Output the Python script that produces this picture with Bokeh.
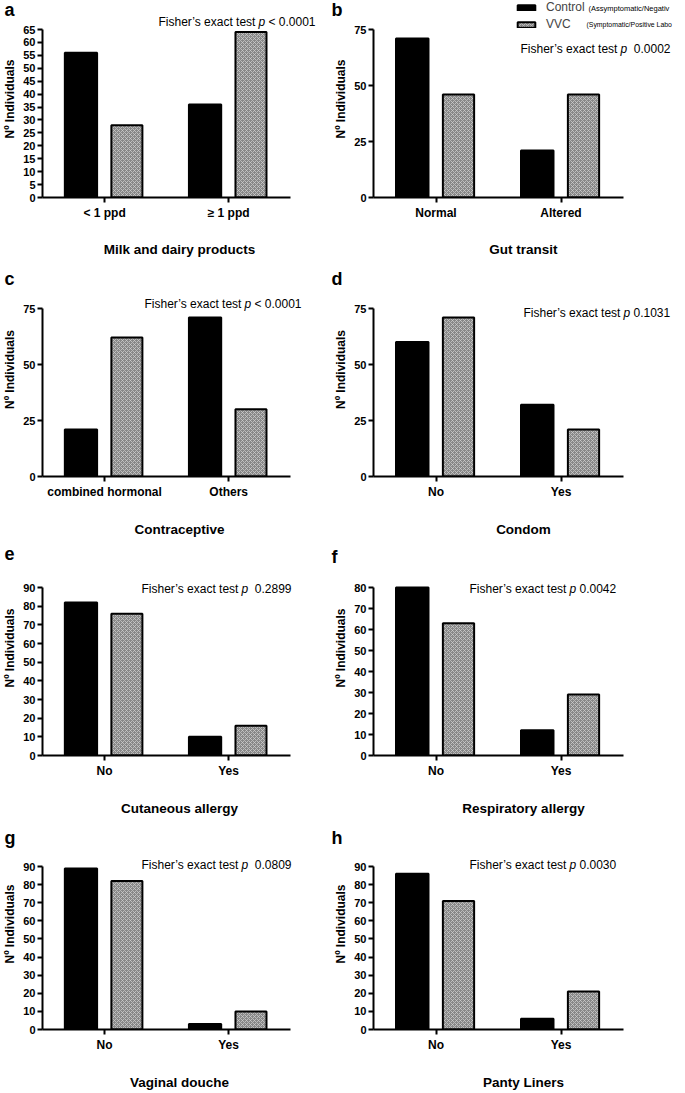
"""
Eight bar panels: Control vs VVC counts per risk factor, with Fisher's test p-values.
"""

from bokeh.plotting import figure
from bokeh.layouts import gridplot
from bokeh.models import ColumnDataSource, FixedTicker, Label, Legend, LegendItem, Range1d
from bokeh.transform import dodge
from bokeh.embed import file_html
from bokeh.resources import INLINE

# Data
letters = ["a", "b", "c", "d", "e", "f", "g", "h"]
titles = ["Milk and dairy products", "Gut transit", "Contraceptive", "Condom",
          "Cutaneous allergy", "Respiratory allergy", "Vaginal douche", "Panty Liners"]
categories = [["< 1 ppd", "\u2265 1 ppd"], ["Normal", "Altered"], ["combined hormonal", "Others"],
              ["No", "Yes"], ["No", "Yes"], ["No", "Yes"], ["No", "Yes"], ["No", "Yes"]]
control = [[56, 36], [71, 21], [21, 71], [60, 32], [82, 10], [80, 12], [89, 3], [86, 6]]
vvc = [[28, 64], [46, 46], [62, 30], [71, 21], [76, 16], [63, 29], [82, 10], [71, 21]]
y_max = [65, 75, 75, 75, 90, 80, 90, 90]
y_step = [5, 25, 25, 25, 10, 10, 10, 10]
fisher_p = ["< 0.0001", "0.0002", "< 0.0001", "0.1031", "0.2899", "0.0042", "0.0809", "0.0030"]
fisher_gap = [1, 2, 1, 1, 2, 1, 2, 1]

# Layout (pixels)
FONT = "Liberation Sans"
PX_PER_CAT = 125
col_width = [330, 355]
col_left = [40, 43]
col_right = [14, 12]
row_height = [262, 278, 278, 274]
row_gap = [29, 46, 47, 49]       # frame top down to the top tick
plot_h = [168, 168, 168, 166]    # top tick down to zero
title_standoff = [19, 20, 20, 20]
fisher_dx = [116, 147, 102, 150, 99, 96, 99, 96]
fisher_dy = [8, -19, 5, -4, -1, -1, 2, 2]
letter_dx = [-38, -42]
letter_dy = [30, 40, 41, 39]


def make_panel(i):
    row, col = divmod(i, 2)
    cats = categories[i]
    frame_w = col_width[col] - col_left[col] - col_right[col]
    p = figure(
        x_range=Range1d(0, frame_w / PX_PER_CAT),
        y_range=Range1d(0, y_max[i] * (1 + row_gap[row] / plot_h[row])),
        width=col_width[col],
        height=row_height[row],
        min_border_left=col_left[col],
        min_border_right=col_right[col],
        min_border_top=0,
        min_border_bottom=row_height[row] - row_gap[row] - plot_h[row],
        output_backend="svg",
        toolbar_location=None,
        tools="",
    )

    pos = [k + 0.5 for k in range(len(cats))]
    src = ColumnDataSource(dict(pos=pos, control=control[i], vvc=vvc[i]))
    r_ctrl = p.vbar(x=dodge("pos", -0.19), top="control", width=0.26, source=src,
                    fill_color="black", line_color="black", line_width=2)
    r_vvc = p.vbar(x=dodge("pos", 0.18), top="vvc", width=0.25, source=src,
                   fill_color="#888888", hatch_pattern="diagonal_cross",
                   hatch_color="#cccccc", hatch_scale=4, hatch_weight=0.8,
                   line_color="black", line_width=2)

    # Axes
    p.xgrid.visible = False
    p.ygrid.visible = False
    p.outline_line_color = None
    p.xaxis.bounds = (0, len(cats))
    p.xaxis.ticker = FixedTicker(ticks=pos)
    p.xaxis.major_label_overrides = dict(zip(pos, cats))
    p.yaxis.bounds = (0, y_max[i])
    p.yaxis.ticker = FixedTicker(ticks=list(range(0, y_max[i] + 1, y_step[i])))
    for ax in (p.xaxis[0], p.yaxis[0]):
        ax.axis_line_width = 2
        ax.axis_line_color = "black"
        ax.major_tick_line_width = 2
        ax.major_tick_line_color = "black"
        ax.major_tick_in = 0
        ax.major_tick_out = 5
        ax.minor_tick_line_color = None
        ax.major_label_text_font = FONT
        ax.major_label_text_font_style = "bold"
        ax.major_label_text_color = "black"
        ax.axis_label_text_font = FONT
        ax.axis_label_text_font_style = "bold"
        ax.axis_label_text_color = "black"
    p.xaxis.major_label_text_font_size = "12px"
    p.xaxis.major_label_standoff = 3
    p.xaxis.axis_label = titles[i]
    p.xaxis.axis_label_text_font_size = "13.5px"
    p.xaxis.axis_label_standoff = title_standoff[row]
    p.yaxis.major_label_text_font_size = "11px"
    p.yaxis.major_label_standoff = 2
    p.yaxis.axis_label = "N\u00ba Individuals"
    p.yaxis.axis_label_text_font_size = "12px"
    p.yaxis.axis_label_standoff = 3

    # Panel letter (kept in a side panel so it is not clipped to the frame)
    p.add_layout(Label(text=letters[i], x=0, y=y_max[i], x_offset=letter_dx[col],
                       y_offset=letter_dy[row], text_baseline="top", text_font=FONT,
                       text_font_size="18px", text_font_style="bold", text_color="black"),
                 "right")

    # Fisher's exact test annotation
    lab = dict(x=0, y=y_max[i], y_offset=fisher_dy[i], text_font=FONT, text_font_size="12px",
               text_baseline="middle", text_color="black")
    dx = fisher_dx[i]
    p.add_layout(Label(text="Fisher\u2019s exact test", x_offset=dx, **lab))
    p.add_layout(Label(text="p", x_offset=dx + 100, text_font_style="italic", **lab))
    p.add_layout(Label(text=fisher_p[i], x_offset=dx + 106.7 + 3.3 * fisher_gap[i], **lab))

    if i == 1:
        legend = Legend(
            items=[LegendItem(label="Control", renderers=[r_ctrl]),
                   LegendItem(label="VVC", renderers=[r_vvc])],
            location=(142, plot_h[row] - 2),
            orientation="vertical",
            padding=0, spacing=3, margin=0,
            glyph_width=22, glyph_height=7, label_height=13, label_standoff=9,
            label_text_font=FONT, label_text_font_size="12px",
            border_line_color=None, background_fill_alpha=0,
        )
        p.add_layout(legend)
        small = dict(x=0, y=y_max[i], text_font=FONT, text_baseline="middle", text_color="black")
        p.add_layout(Label(text="(Assymptomatic/Negativ", x_offset=215, y_offset=21,
                           text_font_size="7.5px", **small))
        p.add_layout(Label(text="(Symptomatic/Positive Labo", x_offset=213, y_offset=5,
                           text_font_size="6.9px", **small))

    return p


panels = [make_panel(i) for i in range(8)]
grid = gridplot([panels[k:k + 2] for k in range(0, 8, 2)], toolbar_location=None)

open("out.html", "w").write(file_html(grid, INLINE))
